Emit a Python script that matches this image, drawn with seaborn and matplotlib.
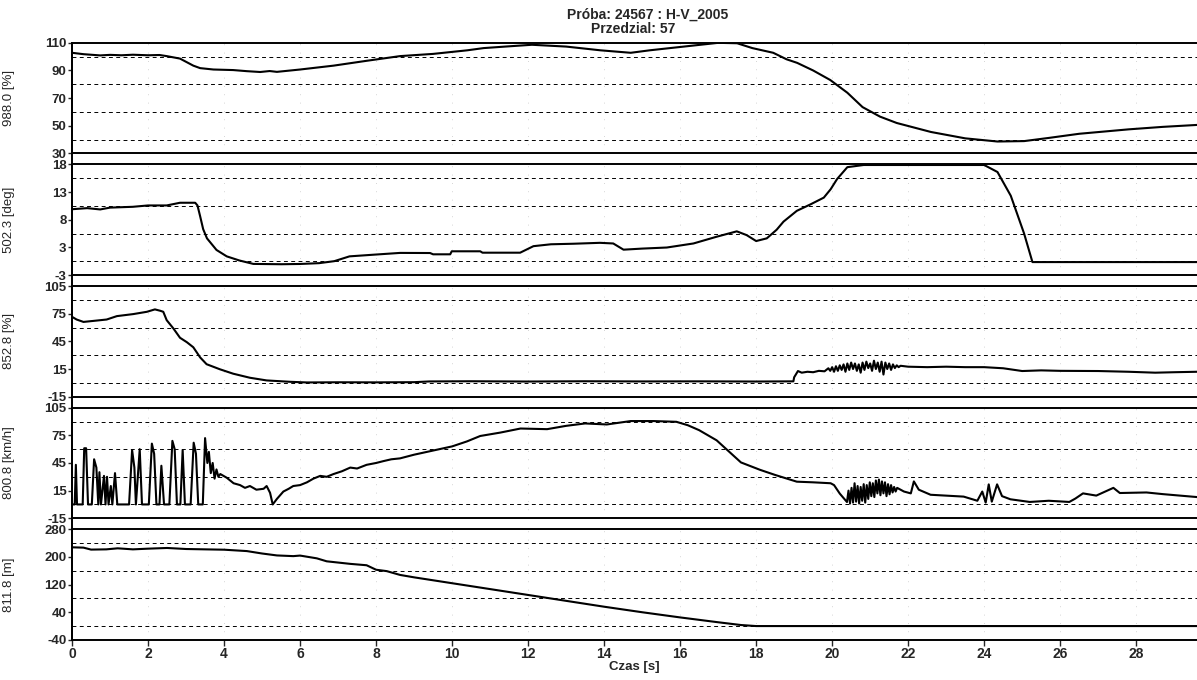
import numpy as np
import matplotlib.pyplot as plt
import seaborn as sns
from matplotlib.lines import Line2D
from matplotlib.ticker import FixedLocator

sns.set_style("white")
plt.rcParams['font.family'] = ['Liberation Sans', 'DejaVu Sans']

# --- values: (time [s], value) ---
ch_988 = [(0, 102.8), (0.3, 101.8), (0.74, 100.9), (1.0, 101.3), (1.3, 101.0), (1.6, 101.4),
          (2.0, 101.0), (2.3, 101.2), (2.49, 100.4), (2.84, 98.6), (3.19, 93.5), (3.37, 91.7),
          (3.72, 90.7), (4.24, 90.3), (4.6, 89.5), (4.95, 88.9), (5.2, 89.6), (5.39, 89.0),
          (6.0, 90.7), (6.88, 93.5), (7.75, 97.0), (8.63, 100.4), (9.5, 102.0), (10.4, 104.6),
          (10.83, 106.2), (11.4, 107.3), (12.1, 108.6), (13.0, 107.3), (13.9, 104.6), (14.7, 102.8),
          (15.2, 104.6), (16.1, 107.3), (17.0, 110.0), (17.5, 109.7), (17.9, 106.2), (18.45, 102.8),
          (18.8, 98.1), (19.08, 95.5), (19.5, 90.0), (19.95, 83.1), (20.4, 73.9), (20.8, 63.5),
          (21.26, 56.6), (21.7, 52.0), (22.6, 45.5), (23.5, 40.9), (24.35, 38.6), (25.05, 38.9),
          (25.7, 41.2), (26.5, 44.2), (27.8, 47.4), (28.7, 49.2), (29.6, 50.6)]

ch_502 = [(0, 9.7), (0.4, 9.9), (0.74, 9.66), (1.0, 10.0), (1.6, 10.15), (2.0, 10.4), (2.49, 10.4),
          (2.84, 10.9), (3.24, 10.9), (3.3, 10.4), (3.37, 8.4), (3.45, 6.0), (3.55, 4.3), (3.8, 2.15),
          (4.07, 0.96), (4.4, 0.2), (4.77, -0.44), (5.5, -0.5), (6.0, -0.45), (6.5, -0.3), (6.9, 0.07),
          (7.3, 0.96), (8.0, 1.3), (8.63, 1.6), (9.42, 1.58), (9.5, 1.34), (9.95, 1.34), (9.99, 1.9),
          (10.74, 1.9), (10.8, 1.64), (11.79, 1.64), (12.14, 2.85), (12.6, 3.2), (13.19, 3.3),
          (13.89, 3.47), (14.24, 3.35), (14.51, 2.2), (15.0, 2.4), (15.65, 2.6), (16.35, 3.35),
          (16.96, 4.6), (17.49, 5.6), (17.75, 4.9), (18.0, 3.8), (18.28, 4.3), (18.54, 5.9),
          (18.72, 7.4), (19.07, 9.4), (19.43, 10.6), (19.78, 11.85), (19.96, 13.4), (20.13, 15.3),
          (20.4, 17.5), (20.83, 17.9), (24.0, 17.9), (24.35, 16.6), (24.7, 12.2), (25.05, 5.2),
          (25.27, -0.1), (29.6, -0.1)]

ch_852 = [(0, 71.6), (0.12, 68.7), (0.3, 66.1), (0.56, 67.2), (0.91, 68.7), (1.18, 72.4),
          (1.61, 74.6), (1.97, 77.1), (2.18, 79.7), (2.32, 78.2), (2.4, 77.1), (2.49, 68.0),
          (2.67, 58.8), (2.84, 48.9), (3.02, 44.1), (3.19, 38.6), (3.37, 27.6), (3.54, 20.2),
          (3.89, 14.7), (4.24, 9.9), (4.68, 5.5), (5.12, 2.6), (5.74, 1.1), (6.18, 0.4), (7.0, 0.6),
          (8.0, 0.5), (9.0, 0.7), (9.4, 1.5), (10.5, 1.7), (12.0, 1.4), (13.5, 1.7), (15.0, 1.5),
          (16.5, 1.6), (18.0, 1.4), (18.98, 1.6), (19.0, 6.0), (19.1, 12.8), (19.2, 11.0),
          (19.35, 12.0), (19.5, 11.5), (19.65, 13.0), (19.8, 12.5), (19.90, 15.8), (19.95, 13),
          (20.00, 17), (20.05, 12), (20.10, 18), (20.15, 13), (20.20, 19), (20.25, 14), (20.30, 20),
          (20.35, 12), (20.40, 21), (20.45, 14), (20.50, 22), (20.55, 15), (20.60, 21), (20.65, 13),
          (20.70, 20), (20.75, 11), (20.80, 22), (20.85, 14), (20.90, 23), (20.95, 16), (21.00, 21),
          (21.05, 13), (21.10, 24), (21.15, 15), (21.20, 22), (21.25, 12), (21.30, 23), (21.35, 9),
          (21.40, 22), (21.45, 15), (21.50, 21), (21.55, 14), (21.60, 20), (21.65, 16), (21.70, 19),
          (21.75, 17), (21.80, 18.5), (22.0, 17.5), (22.5, 17.0), (23.0, 17.5), (23.5, 17.0),
          (24.0, 17.0), (24.5, 15.8), (25.0, 12.8), (25.5, 13.5), (26.0, 13.0), (27.0, 12.8),
          (27.8, 12.0), (28.5, 11.0), (29.0, 11.5), (29.6, 12.0)]

ch_800 = [(0.00, 0), (0.07, 0), (0.10, 43), (0.13, 0), (0.28, 0), (0.32, 61), (0.37, 61), (0.42, 0),
          (0.52, 0), (0.58, 49), (0.64, 40), (0.69, 0), (0.72, 35), (0.76, 0), (0.84, 31), (0.88, 0),
          (0.92, 30), (0.96, 0), (1.02, 20), (1.06, 0), (1.13, 34), (1.19, 0), (1.50, 0), (1.58, 59),
          (1.64, 40), (1.68, 0), (1.78, 60), (1.84, 0), (2.02, 0), (2.10, 66), (2.16, 55), (2.22, 0),
          (2.30, 0), (2.35, 42), (2.42, 0), (2.56, 0), (2.64, 69), (2.70, 60), (2.76, 0), (2.85, 0),
          (2.91, 59), (2.97, 0), (3.12, 0), (3.20, 67), (3.26, 55), (3.32, 0), (3.44, 0), (3.50, 72),
          (3.56, 45), (3.60, 57), (3.65, 34), (3.70, 45), (3.75, 28), (3.80, 38), (3.85, 30),
          (3.90, 33), (4.07, 29), (4.25, 23), (4.42, 21), (4.55, 18), (4.68, 20), (4.85, 16),
          (5.04, 17), (5.12, 20), (5.21, 12.6), (5.28, 0), (5.39, 6), (5.56, 14), (5.70, 17),
          (5.82, 20), (6.0, 21), (6.18, 24), (6.35, 28), (6.53, 31), (6.7, 30), (6.88, 33), (7.1, 36),
          (7.32, 40), (7.5, 39), (7.75, 43), (8.0, 45), (8.19, 47), (8.4, 49), (8.63, 50), (9.0, 54),
          (9.5, 58.5), (10.0, 63), (10.39, 68.4), (10.74, 74.3), (11.27, 78), (11.8, 82.4),
          (12.2, 82), (12.5, 81.7), (13.0, 85.3), (13.5, 87.9), (14.07, 86.8), (14.7, 90.5),
          (15.3, 90.5), (15.9, 89.7), (16.2, 86), (16.5, 80.6), (16.96, 69.6), (17.4, 53),
          (17.6, 45.6), (18.1, 37.6), (18.5, 32), (19.07, 24.7), (19.5, 24), (19.96, 23),
          (20.05, 21), (20.2, 11.8), (20.39, 2.6), (20.43, 15), (20.47, 1), (20.51, 18), (20.55, 2),
          (20.59, 23), (20.63, 3), (20.67, 20), (20.71, 1), (20.75, 19), (20.79, 4), (20.83, 22),
          (20.87, 2), (20.91, 21), (20.95, 6), (20.99, 24), (21.03, 9), (21.07, 23), (21.11, 8),
          (21.15, 26), (21.19, 12), (21.23, 27), (21.27, 10), (21.31, 25), (21.35, 12), (21.39, 24),
          (21.43, 9), (21.47, 22), (21.51, 11), (21.55, 21), (21.59, 13), (21.63, 19), (21.67, 14),
          (21.71, 18), (21.89, 14), (22.07, 12), (22.15, 25), (22.28, 16), (22.59, 10.5),
          (23.03, 9.5), (23.46, 8.5), (23.82, 4), (23.95, 14), (24.04, 2), (24.12, 21.8), (24.2, 3),
          (24.34, 21.8), (24.47, 9), (24.69, 5.6), (25.2, 2.7), (25.7, 4), (26.24, 2.7), (26.4, 6.4),
          (26.6, 12), (26.95, 9.6), (27.4, 18), (27.57, 12.4), (28.27, 13), (28.7, 11.2),
          (29.16, 9.6), (29.6, 8)]

ch_811 = [(0, 227.9), (0.3, 227), (0.5, 221.3), (0.9, 222), (1.2, 225), (1.6, 222), (2.0, 224),
          (2.5, 226), (3.0, 223), (3.5, 222), (4.0, 221), (4.6, 217), (5.0, 210), (5.39, 204.4),
          (5.82, 202.4), (6.0, 204), (6.44, 196), (6.7, 187.4), (7.32, 180), (7.75, 176), (8.0, 163),
          (8.28, 159), (8.63, 148), (9.0, 141), (10.0, 124), (11.0, 107), (12.0, 90), (13.0, 73),
          (14.0, 56), (15.0, 40), (16.0, 25), (17.0, 11), (17.6, 3), (18.0, 0), (29.6, 0)]

y_labels = ["988.0 [%]", "502.3 [deg]", "852.8 [%]", "800.8 [km/h]", "811.8 [m]"]
y_limits = [(30, 110), (-2.5, 18), (-15, 105), (-15, 105), (-40, 280)]
y_tick_labels = [["30", "50", "70", "90", "110"],
                 ["-3", "3", "8", "13", "18"],
                 ["-15", "15", "45", "75", "105"],
                 ["-15", "15", "45", "75", "105"],
                 ["-40", "40", "120", "200", "280"]]
x_ticks = list(range(0, 30, 2))

channels = [ch_988, ch_502, ch_852, ch_800, ch_811]

fig, axes = plt.subplots(5, 1, sharex=True, figsize=(11.97, 6.80), dpi=100)
fig.subplots_adjust(left=0.0602, right=1.0, top=0.937, bottom=0.059, hspace=0.1)

for i, ax in enumerate(axes):
    t, v = zip(*channels[i])
    sns.lineplot(x=list(t), y=list(v), ax=ax, color="black", linewidth=1.5,
                 estimator=None, sort=False)
    lo, hi = y_limits[i]
    ticks = np.linspace(lo, hi, 5)
    ax.set_ylim(lo, hi)
    ax.set_yticks(ticks)
    ax.set_yticklabels(y_tick_labels[i], fontweight="bold")
    mids = (ticks[:-1] + ticks[1:]) / 2
    ax.yaxis.set_minor_locator(FixedLocator(mids))
    ax.grid(which="minor", axis="y", color="black", linewidth=0.7, linestyle=(0, (4, 3.5)))
    ax.grid(which="major", axis="x", color="0.78", linewidth=0.6, linestyle=(0, (1, 9)))
    ax.tick_params(axis="y", which="major", direction="out", length=3, width=1,
                   labelsize=9.5, pad=1, left=True)
    ax.tick_params(axis="y", which="minor", length=0)
    ax.set_ylabel(y_labels[i], fontsize=9.5)
    ax.yaxis.set_label_coords(-0.051, 0.5)
    ax.spines["right"].set_visible(False)
    for s in ("top", "bottom", "left"):
        ax.spines[s].set_linewidth(1.4)
        ax.spines[s].set_color("black")
    if i < 4:
        ax.tick_params(axis="x", length=0)

axes[-1].set_xlim(0, 29.6)
axes[-1].set_xticks(x_ticks)
axes[-1].set_xticklabels([str(x) for x in x_ticks], fontweight="bold")
axes[-1].tick_params(axis="x", direction="out", length=4, width=1, labelsize=10, pad=1, bottom=True)
axes[-1].set_xlabel("Czas [s]", fontsize=9.5, fontweight="bold", labelpad=0)

# continuous left axis line across the gaps
x0 = axes[0].get_position().x0
fig.add_artist(Line2D([x0, x0], [axes[-1].get_position().y0, axes[0].get_position().y1],
                      transform=fig.transFigure, color="black", linewidth=1.4))

fig.text(0.541, 0.978, "Próba: 24567 : H-V_2005", ha="center", va="center",
         fontsize=10, fontweight="bold")
fig.text(0.529, 0.957, "Przedzial: 57", ha="center", va="center",
         fontsize=10, fontweight="bold")

fig.savefig("out.png", dpi=100)
